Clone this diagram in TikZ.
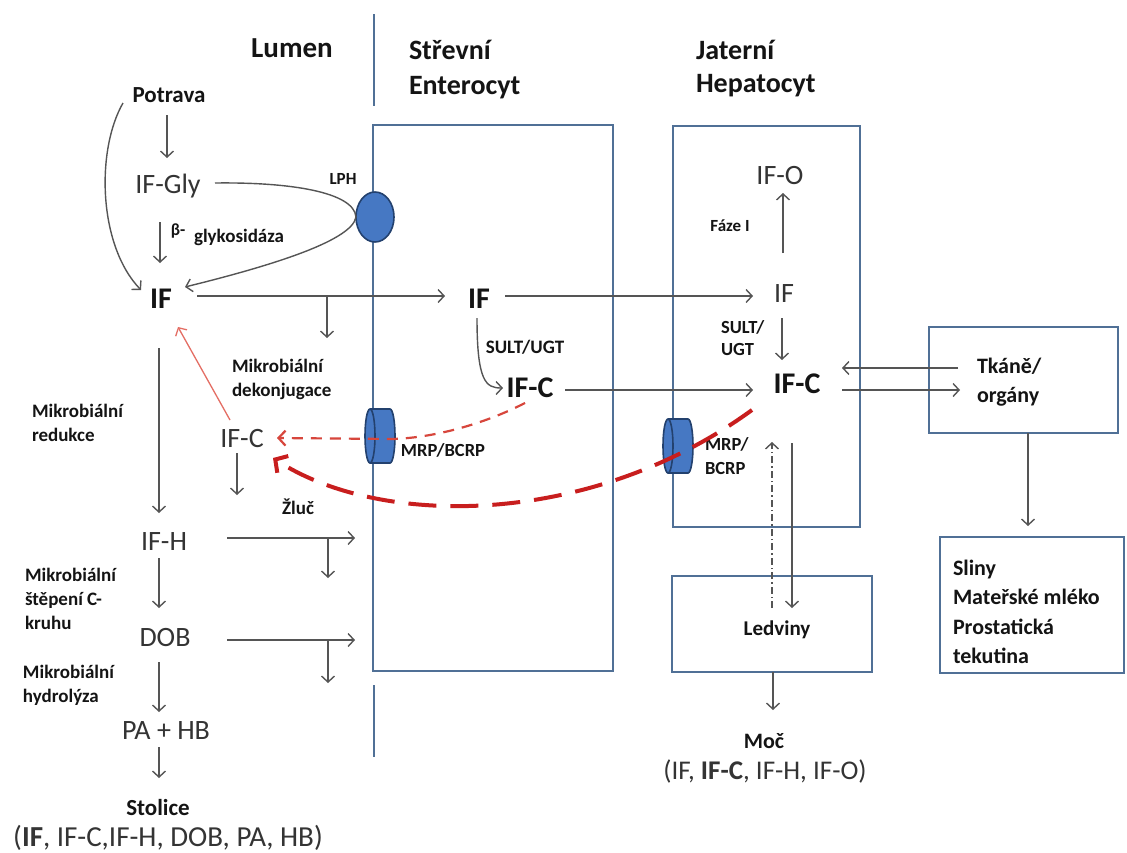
\documentclass[tikz,border=0pt]{standalone}
\usepackage{fontspec}
\setmainfont{Carlito}
\usetikzlibrary{arrows.meta,shapes.geometric,calc}
\definecolor{boxc}{RGB}{80,112,150}
\definecolor{cylf}{RGB}{70,120,195}
\definecolor{cylb}{RGB}{35,65,110}
\definecolor{arrc}{RGB}{85,85,85}
\definecolor{txtg}{RGB}{52,52,52}
\definecolor{txtk}{RGB}{20,20,20}
\definecolor{redl}{RGB}{228,110,100}
\definecolor{redm}{RGB}{215,70,60}
\definecolor{redd}{RGB}{200,30,30}
\tikzset{
 every node/.style={inner sep=0pt, outer sep=0pt},
 boxst/.style={draw=boxc, line width=2.2pt, rectangle},
 wall/.style={draw=boxc, line width=2.2pt},
 arr/.style={draw=arrc, line width=1.4pt, -{Straight Barb[length=6pt,width=13pt]}},
 reg/.style={text=txtg, font=\fontsize{28}{34}\selectfont},
 regb/.style={text=txtk, font=\fontsize{30}{36}\selectfont\bfseries},
 lab/.style={text=txtk, font=\fontsize{19}{24}\selectfont\bfseries, align=left},
 head/.style={text=txtk, font=\fontsize{28}{34}\selectfont\bfseries, align=left},
 mid/.style={text=txtk, font=\fontsize{22}{29.5}\selectfont\bfseries, align=left},
 cylst/.style={fill=cylf, draw=cylb, line width=1.6pt},
}
\begin{document}
\begin{tikzpicture}[x=1pt,y=-1pt]
\fill[white] (0,0) rectangle (1127,852);
\path[use as bounding box] (0,0) rectangle (1127,852);

% compartments
\node[boxst, minimum width=240pt, minimum height=546pt] (entbox) at (493,398) {};
\node[boxst, minimum width=187pt, minimum height=401pt] (hepbox) at (766.5,326.5) {};
\node[boxst, minimum width=189pt, minimum height=106pt] (tkbox) at (1023.5,380) {};
\node[boxst, minimum width=200pt, minimum height=96pt] (ledbox) at (772,624) {};
\node[boxst, minimum width=184pt, minimum height=136pt] (slbox) at (1032,605) {};
\coordinate (d1) at (374,14); \coordinate (d2) at (374,106);
\coordinate (d3) at (374,685); \coordinate (d4) at (374,757);
\draw[wall] (d1) -- (d2);
\draw[wall] (d3) -- (d4);

% transporters
\node[ellipse, cylst, minimum width=38pt, minimum height=50pt] (lph) at (375,217) {};
\fill[cylf] (370,409) -- (390,409) arc[start angle=90,end angle=-90,x radius=5pt,y radius=27pt] -- (370,463) arc[start angle=270,end angle=90,x radius=5pt,y radius=27pt] -- cycle;
\draw[cylb, line width=1.6pt] (370,409) -- (390,409) arc[start angle=90,end angle=-90,x radius=5pt,y radius=27pt] -- (370,463);
\draw[cylb, line width=1.6pt] (370,436) ellipse[x radius=5pt, y radius=27pt];
\coordinate (mrp1) at (380,436);
\fill[cylf] (668,419) -- (688,419) arc[start angle=90,end angle=-90,x radius=5pt,y radius=27pt] -- (668,473) arc[start angle=270,end angle=90,x radius=5pt,y radius=27pt] -- cycle;
\draw[cylb, line width=1.6pt] (668,419) -- (688,419) arc[start angle=90,end angle=-90,x radius=5pt,y radius=27pt] -- (668,473);
\draw[cylb, line width=1.6pt] (668,446) ellipse[x radius=5pt, y radius=27pt];
\coordinate (mrp2) at (678,446);

% headers
\node[head, font=\fontsize{29}{34}\selectfont\bfseries] (lumen) at (292,48) {Lumen};
\node[head, anchor=west, font=\fontsize{28}{35}\selectfont\bfseries] (strev) at (409,70) {Střevní\\Enterocyt};
\node[head, anchor=west, font=\fontsize{28}{33}\selectfont\bfseries] (jat) at (696,69) {Jaterní\\Hepatocyt};

% lumen nodes
\node[text=txtk, font=\fontsize{23}{28}\selectfont\bfseries] (potrava) at (169,95) {Potrava};
\node[reg] (ifgly) at (168,186) {IF-Gly};
\node[text=txtk, font=\fontsize{17}{20}\selectfont\bfseries] (beta) at (178,231) {β-};
\node[lab] (glyk) at (239,237) {glykosidáza};
\node[lab, font=\fontsize{17}{20}\selectfont\bfseries] (lphl) at (343,179) {LPH};
\node[regb] (if1) at (161,299) {IF};
\node[lab, anchor=west] (dekon) at (232,379) {Mikrobiální\\dekonjugace};
\node[lab, anchor=west] (redu) at (32,423) {Mikrobiální\\redukce};
\node[reg] (ifcl) at (242,439) {IF-C};
\node[lab] (zluc) at (298,507) {Žluč};
\node[reg] (ifhl) at (164,542) {IF-H};
\node[lab, anchor=west] (steep) at (25,599) {Mikrobiální\\štěpení C-\\kruhu};
\node[reg] (dob) at (165,637) {DOB};
\node[lab, anchor=west] (hydro) at (23,685) {Mikrobiální\\hydrolýza};
\node[reg] (pahb) at (166,731) {PA + HB};
\node[text=txtk, font=\fontsize{23}{28}\selectfont\bfseries] (stolice) at (158,808) {Stolice};
\node[reg, font=\fontsize{29}{34}\selectfont] (stlist) at (168,838) {(\textbf{IF}, IF-C,IF-H, DOB, PA, HB)};

% enterocyte nodes
\node[regb] (ife) at (479,299) {IF};
\node[lab] (sult1) at (525,347) {SULT/UGT};
\node[regb] (ifce) at (530,388) {IF-C};
\node[lab, font=\fontsize{18.5}{24}\selectfont\bfseries] (mrpl1) at (443,450) {MRP/BCRP};

% hepatocyte nodes
\node[reg] (ifo) at (780,176) {IF-O};
\node[lab, font=\fontsize{17}{20}\selectfont\bfseries] (faze) at (730,226) {Fáze I};
\node[reg] (ifh) at (784,294) {IF};
\node[lab, anchor=west, font=\fontsize{18.5}{22}\selectfont\bfseries] (sult2) at (721,338) {SULT/\\UGT};
\node[regb] (ifch) at (797,384) {IF-C};
\node[lab, anchor=west, font=\fontsize{18.5}{24}\selectfont\bfseries] (mrpl2) at (705,456) {MRP/\\BCRP};

% other organs
\node[mid, anchor=west] (tkane) at (977,382) {Tkáně/\\orgány};
\node[mid, font=\fontsize{21}{26}\selectfont\bfseries] (ledv) at (777,630) {Ledviny};
\node[mid, anchor=west] (sliny) at (953,612) {Sliny\\Mateřské mléko\\Prostatická\\tekutina};
\node[mid] (moc) at (764,741) {Moč};
\node[reg, font=\fontsize{27}{32}\selectfont] (moclist) at (765,771) {(IF, \textbf{IF-C}, IF-H, IF-O)};

% lumen arrows
\draw[arr] ($(potrava)+(-2,20)$) -- ($(ifgly)+(-1,-28)$);
\draw[arr] ($(ifgly)+(-8,36)$) -- ($(if1)+(-1,-36)$);
\draw[arr] ($(potrava)+(-46,8)$) .. controls (96,150) and (98,245) .. ($(if1)+(-20,-9)$);
\draw[arr] ($(ifgly)+(47,-3)$) .. controls (290,182) and (354,192) .. (lph.west) .. controls (352,242) and (262,268) .. ($(if1)+(24,-12)$);
\draw[arr] ($(if1)+(36,-3)$) -- ($(ife)+(-34,-3)$);
\coordinate (br1) at (327,296);
\draw[arr] (br1) -- ++(0,42);
\draw[arr] ($(if1)+(-2,49)$) -- ($(ifhl)+(-5,-29)$);
\draw[arr, draw=redl, line width=1.3pt] ($(ifcl)+(-12,-19)$) -- ($(if1)+(17,28)$);
\draw[arr] ($(ifcl)+(-5,14)$) -- ($(ifcl)+(-5,56)$);
\draw[arr] ($(ifhl)+(63,-4)$) -- ($(ifhl)+(191,-4)$);
\coordinate (br2) at (328,538);
\draw[arr] (br2) -- ++(0,40);
\draw[arr] ($(ifhl)+(-5,16)$) -- ($(dob)+(-6,-29)$);
\draw[arr] ($(dob)+(62,3)$) -- ($(dob)+(190,3)$);
\coordinate (br3) at (328,640);
\draw[arr] (br3) -- ++(0,43);
\draw[arr] ($(dob)+(-6,25)$) -- ($(pahb)+(-7,-19)$);
\draw[arr] ($(pahb)+(-7,16)$) -- ($(stolice)+(1,-30)$);

% enterocyte / hepatocyte arrows
\draw[arr] ($(ife)+(26,-3)$) -- ($(ifh)+(-31,2)$);
\draw[arr] ($(ife)+(-2,19)$) .. controls (477,382) and (486,388) .. ($(ifce)+(-27,0)$);
\draw[arr] ($(ifce)+(35,2)$) -- ($(ifch)+(-44,6)$);
\draw[arr] ($(ifh)+(-1,-41)$) -- ($(ifo)+(3,17)$);
\draw[arr] ($(ifh)+(-2,24)$) -- ($(ifch)+(-15,-24)$);
\draw[arr] ($(tkbox)+(-65.5,-12)$) -- ($(ifch)+(45,-16)$);
\draw[arr] ($(ifch)+(45,6)$) -- ($(tkbox)+(-63.5,10)$);
\draw[arr] ($(tkbox)+(4.5,53)$) -- ($(slbox)+(-4,-79)$);
\draw[arr] ($(ifch)+(-5,59)$) -- ($(ledbox)+(20,-16)$);
\draw[arr, dash pattern=on 7pt off 3pt on 1.5pt off 3pt] ($(ledbox)+(0,-16)$) -- ($(ifch)+(-25,58)$);
\draw[arr] ($(ledbox)+(1,48)$) -- ($(moc)+(9,-31)$);

% excretion into bile (red)
\draw[draw=redm, line width=2.2pt, dash pattern=on 11pt off 8pt, -{Straight Barb[length=7pt,width=15pt]}] ($(ifce)+(-5,15)$) .. controls (482,425) and (432,438) .. (392,439) -- ($(ifcl)+(35,-1)$);
\draw[draw=redd, line width=4pt, dash pattern=on 28pt off 14pt, -{Straight Barb[length=9pt,width=20pt]}] ($(ifch)+(-45,26)$) .. controls (590,528) and (380,528) .. ($(ifcl)+(31,19)$);
\end{tikzpicture}
\end{document}
